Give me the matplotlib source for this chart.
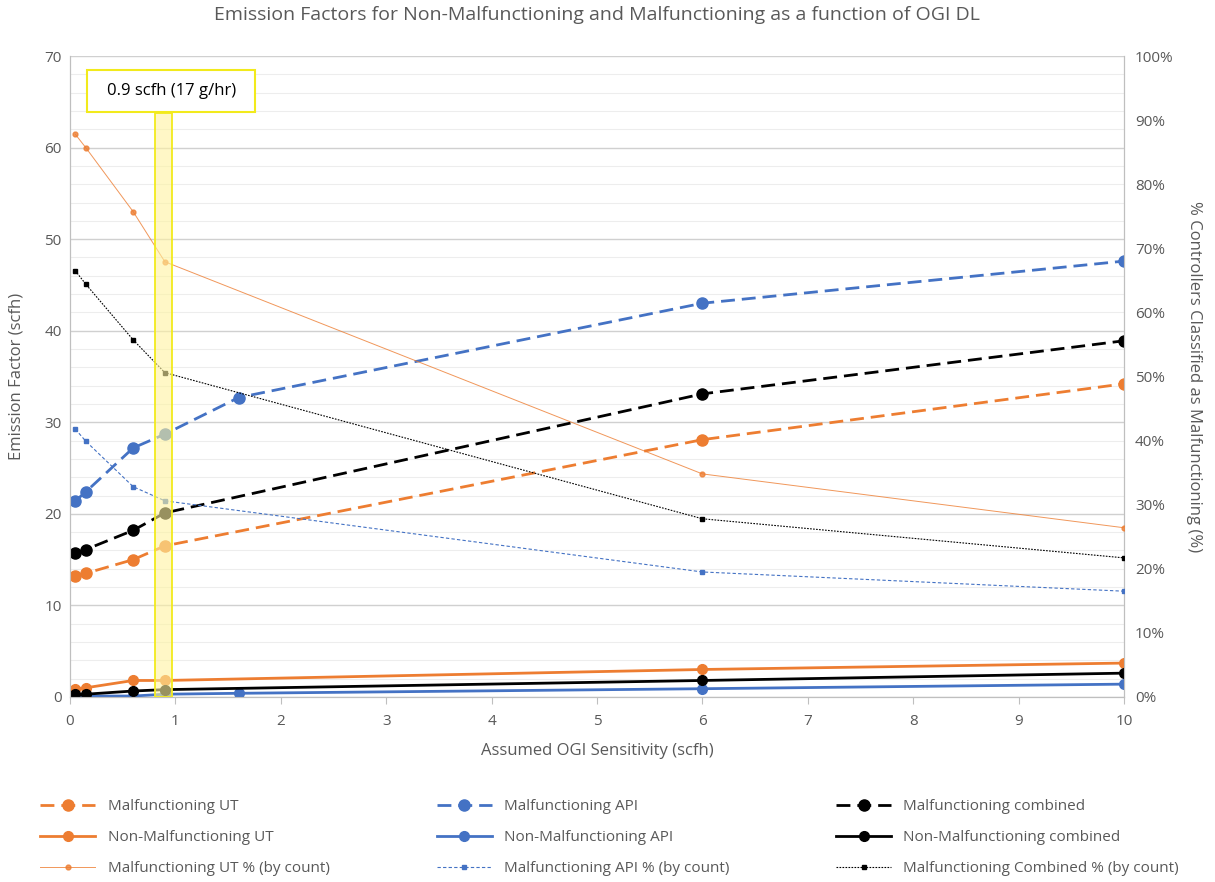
import matplotlib
matplotlib.use("Agg")
import matplotlib.pyplot as plt
from matplotlib.patches import Rectangle
from matplotlib.ticker import MultipleLocator, FuncFormatter

plt.rcParams['font.family'] = ['Open Sans', 'DejaVu Sans']

# ---- data ----
x_main = [0.05, 0.15, 0.6, 0.9, 6, 10]
x_api = [0.05, 0.15, 0.6, 0.9, 1.6, 6, 10]

malf_ut = [13.2, 13.5, 15.0, 16.5, 28.1, 34.2]
malf_api = [21.4, 22.4, 27.2, 28.7, 32.7, 43.0, 47.6]
malf_comb = [15.7, 16.1, 18.2, 20.1, 33.1, 38.9]

nonmalf_ut = [0.9, 1.0, 1.8, 1.8, 3.0, 3.7]
nonmalf_api = [0.1, 0.1, 0.1, 0.3, 0.4, 0.9, 1.4]
nonmalf_comb = [0.3, 0.3, 0.65, 0.8, 1.8, 2.6]

pct_ut = [87.8, 85.7, 75.7, 67.9, 34.8, 26.4]
pct_api = [41.8, 39.9, 32.8, 30.6, 19.5, 16.5]
pct_comb = [66.5, 64.4, 55.7, 50.6, 27.8, 21.7]

title = "Emission Factors for Non-Malfunctioning and Malfunctioning as a function of OGI DL"
xlabel = "Assumed OGI Sensitivity (scfh)"
ylabel_left = "Emission Factor (scfh)"
ylabel_right = "% Controllers Classified as Malfunctioning (%)"
annot = "0.9 scfh (17 g/hr)"

ORANGE = "#ED7D31"
BLUE = "#4472C4"
BLACK = "#000000"
GRAY = "#595959"

fig = plt.figure(figsize=(12.15, 8.82), dpi=100)
ax = fig.add_axes([0.0576, 0.2098, 0.8675, 0.7267])
ax2 = ax.twinx()

# gridlines
ax.set_ylim(0, 70)
ax.set_xlim(0, 10)
ax.yaxis.set_major_locator(MultipleLocator(10))
ax.yaxis.set_minor_locator(MultipleLocator(2))
ax.xaxis.set_major_locator(MultipleLocator(1))
ax.grid(axis='y', which='major', color='#d0d0d0', lw=1.0, zorder=0)
ax.grid(axis='y', which='minor', color='#ededed', lw=0.8, zorder=0)
ax.tick_params(axis='y', which='both', length=0, labelsize=11, colors=GRAY, pad=6)
ax.tick_params(axis='x', length=5, color='#bfbfbf', labelsize=11, colors=GRAY, pad=7)

for s in ['top']:
    ax.spines[s].set_visible(False)
    ax2.spines[s].set_visible(False)
for s in ['left', 'bottom', 'right']:
    ax.spines[s].set_color('#bfbfbf')
    ax2.spines[s].set_color('#bfbfbf')

dash = (5, 2.5)
l1, = ax.plot(x_main, malf_ut, color=ORANGE, lw=2, dashes=dash, marker='o', ms=8, zorder=3, label="Malfunctioning UT")
l2, = ax.plot(x_api, malf_api, color=BLUE, lw=2, dashes=dash, marker='o', ms=8, zorder=3, label="Malfunctioning API")
l3, = ax.plot(x_main, malf_comb, color=BLACK, lw=2, dashes=dash, marker='o', ms=8, zorder=3, label="Malfunctioning combined")
l4, = ax.plot(x_main, nonmalf_ut, color=ORANGE, lw=2, marker='o', ms=7, zorder=3, label="Non-Malfunctioning UT")
l5, = ax.plot(x_api, nonmalf_api, color=BLUE, lw=2, marker='o', ms=7, zorder=3, label="Non-Malfunctioning API")
l6, = ax.plot(x_main, nonmalf_comb, color=BLACK, lw=2, marker='o', ms=7, zorder=3, label="Non-Malfunctioning combined")

ax2.set_ylim(0, 100)
ax2.yaxis.set_major_locator(MultipleLocator(10))
ax2.yaxis.set_major_formatter(FuncFormatter(lambda v, p: f"{int(round(v))}%"))
ax2.tick_params(axis='y', length=0, labelsize=11, colors=GRAY, pad=8)
l7, = ax2.plot(x_main, pct_ut, color=ORANGE, lw=0.7, alpha=0.8, marker='o', ms=3.5, zorder=3, label="Malfunctioning UT % (by count)")
l8, = ax2.plot(x_main, pct_api, color=BLUE, lw=0.8, dashes=(3, 2), marker='s', ms=3.5, zorder=3, label="Malfunctioning API % (by count)")
l9, = ax2.plot(x_main, pct_comb, color=BLACK, lw=0.8, dashes=(1.5, 1.2), marker='s', ms=3.5, zorder=3, label="Malfunctioning Combined % (by count)")

# highlight band and annotation box (drawn on top axis)
ax2.add_patch(Rectangle((0.81, 0), 0.16, 63.8 / 70 * 100, facecolor='#FFF3A0', alpha=0.6,
                        edgecolor='none', zorder=5))
ax2.add_patch(Rectangle((0.81, 0), 0.16, 63.8 / 70 * 100, facecolor='none',
                        edgecolor='#F2EA1C', lw=1.3, zorder=6))
ax2.add_patch(Rectangle((0.16, 63.9 / 70 * 100), 1.6, 4.6 / 70 * 100, facecolor='white',
                        edgecolor='#F2EA1C', lw=1.5, zorder=6))
ax2.text(0.96, 66.2 / 70 * 100, annot, ha='center', va='center', fontsize=12, color='black', zorder=7)

ax.set_title(title, fontsize=14, color=GRAY, pad=26)
ax.set_xlabel(xlabel, fontsize=12, color=GRAY, labelpad=10)
ax.set_ylabel(ylabel_left, fontsize=12, color=GRAY, labelpad=14)
ax2.set_ylabel(ylabel_right, fontsize=12, color=GRAY, rotation=-90, labelpad=20)

handles = [l1, l4, l7, l2, l5, l8, l3, l6, l9]
leg = fig.legend(handles=handles, labels=[h.get_label() for h in handles], loc='lower left',
                 bbox_to_anchor=(0.022, -0.009), ncol=3, frameon=False, fontsize=11,
                 handlelength=3.6, columnspacing=7.0, labelspacing=1.05)
for t in leg.get_texts():
    t.set_color(GRAY)

fig.savefig("out.png", dpi=100)
